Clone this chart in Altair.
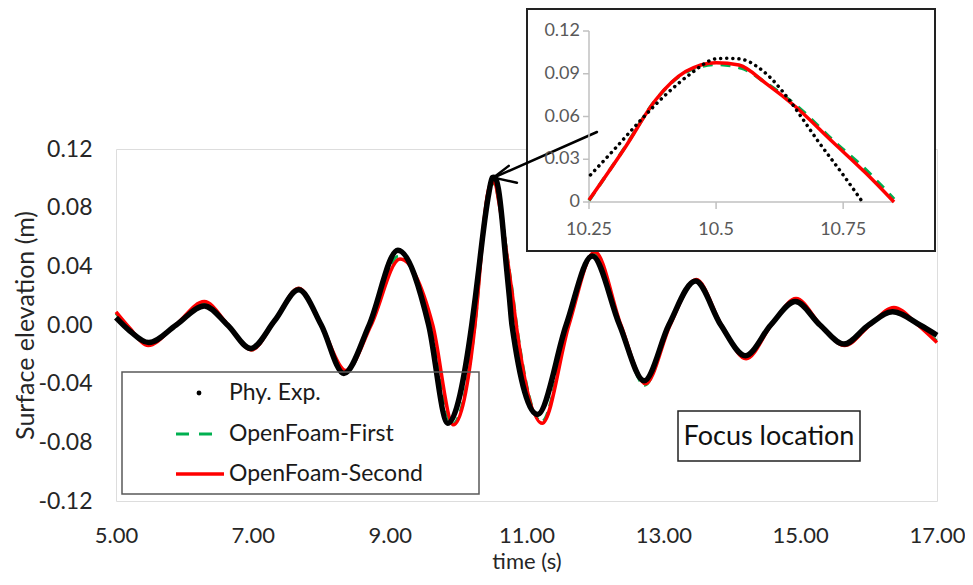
import altair as alt
import pandas as pd

# ---------------- data ----------------
exp_t = [5.00, 5.20, 5.48, 5.88, 6.29, 6.63, 6.97, 7.32, 7.67, 8.00, 8.33, 8.70, 9.12, 9.57, 9.85,
         10.20, 10.253, 10.30, 10.355, 10.40, 10.45, 10.50, 10.52, 10.545, 10.59, 10.644, 10.667,
         10.70, 10.75, 10.788, 11.16, 11.58, 11.96, 12.36, 12.72, 13.08, 13.47, 13.84, 14.20,
         14.57, 14.93, 15.29, 15.64, 16.00, 16.35, 16.75, 17.00]
exp_v = [0.005, -0.004, -0.012, 0.000, 0.013, 0.000, -0.016, 0.003, 0.024, 0.000, -0.033, 0.000, 0.051, 0.000, -0.067,
         0.000, 0.019, 0.037, 0.0587, 0.075, 0.090, 0.1005, 0.1008, 0.1005, 0.0926, 0.0716, 0.060,
         0.043, 0.019, 0.000, -0.061, 0.000, 0.047, 0.000, -0.038, 0.000, 0.030, 0.000, -0.021,
         0.000, 0.016, 0.000, -0.013, 0.000, 0.009, 0.000, -0.007]

first_t = [5.00, 5.20, 5.47, 5.87, 6.29, 6.64, 6.98, 7.32, 7.67, 8.00, 8.35, 8.72, 9.13, 9.61, 9.91,
           10.25, 10.32, 10.38, 10.44, 10.50, 10.55, 10.60, 10.66, 10.736, 10.788, 10.85,
           11.22, 11.61, 11.99, 12.37, 12.73, 13.09, 13.47, 13.85, 14.21, 14.58, 14.94, 15.30,
           15.65, 16.02, 16.36, 16.73, 17.00]
first_v = [0.008, -0.003, -0.013, 0.000, 0.015, 0.000, -0.017, 0.003, 0.025, 0.000, -0.032, 0.000, 0.047, 0.000, -0.068,
           0.001, 0.038, 0.071, 0.091, 0.0965, 0.094, 0.083, 0.067, 0.0412, 0.0248, 0.002,
           -0.066, 0.000, 0.049, 0.000, -0.041, 0.000, 0.030, 0.000, -0.022, 0.000, 0.017, 0.000,
           -0.014, 0.000, 0.011, 0.000, -0.011]

second_t = [5.00, 5.20, 5.47, 5.87, 6.29, 6.64, 6.98, 7.32, 7.67, 8.00, 8.36, 8.73, 9.15, 9.63, 9.93,
            10.25, 10.322, 10.381, 10.44, 10.50, 10.545, 10.598, 10.657, 10.729, 10.795, 10.85,
            11.23, 11.62, 12.00, 12.38, 12.74, 13.10, 13.48, 13.85, 14.21, 14.58, 14.94, 15.30,
            15.65, 16.02, 16.37, 16.72, 17.00]
second_v = [0.009, -0.002, -0.014, 0.000, 0.016, 0.000, -0.017, 0.003, 0.025, 0.000, -0.031, 0.000, 0.045, 0.000, -0.068,
            0.0014, 0.0388, 0.0716, 0.0915, 0.0978, 0.0961, 0.0833, 0.0667, 0.0423, 0.0201, 0.000,
            -0.067, 0.000, 0.050, 0.000, -0.040, 0.000, 0.031, 0.000, -0.023, 0.000, 0.018, 0.000,
            -0.014, 0.000, 0.012, 0.000, -0.012]

legend_labels = ["Phy. Exp.", "OpenFoam-First", "OpenFoam-Second"]
x_ticks = [5, 7, 9, 11, 13, 15, 17]
y_ticks = [-0.12, -0.08, -0.04, 0.0, 0.04, 0.08, 0.12]
inset_x_domain = [10.25, 10.85]
inset_y_domain = [0, 0.12]
inset_x_ticks = [10.25, 10.5, 10.75]
inset_y_ticks = [0, 0.03, 0.06, 0.09, 0.12]
annotation_text = "Focus location"

# arrow (data coordinates): shaft from the inset to the focused crest, plus two barbs
arrow_t0 = [12.03, 10.52, 10.52]
arrow_v0 = [0.1316, 0.1005, 0.1005]
arrow_t1 = [10.52, 10.86, 10.74]
arrow_v1 = [0.1005, 0.0970, 0.1085]

# ---------------- tables ----------------
df_exp = pd.DataFrame({"t": exp_t, "v": exp_v})
df_first = pd.DataFrame({"t": first_t, "v": first_v})
df_second = pd.DataFrame({"t": second_t, "v": second_v})
df_arrow = pd.DataFrame({"t": arrow_t0, "v": arrow_v0, "t2": arrow_t1, "v2": arrow_v1})
df_ixt = pd.DataFrame({"t": inset_x_ticks})
df_iyt = pd.DataFrame({"v": inset_y_ticks})
df_ixd = pd.DataFrame({"t": [inset_x_domain[0]], "t2": [inset_x_domain[1]], "v": [inset_y_domain[0]]})
df_iyd = pd.DataFrame({"t": [inset_x_domain[0]], "v": [inset_y_domain[0]], "v2": [inset_y_domain[1]]})
one = pd.DataFrame({"a": [0]})

FONT = "Lato"
W, H = 821, 352
GREEN = "#00b050"
RED = "#ff0000"
TXT = "#262626"
AX_GRAY = "#c0c0c0"

# ---------------- main panel ----------------
xs = alt.Scale(domain=[5, 17], nice=False, zero=False)
ys = alt.Scale(domain=[-0.12, 0.12], nice=False)
x_axis = alt.Axis(values=x_ticks, format=".2f", title="time (s)", grid=False, domain=False, ticks=False,
                  labelFlush=False, labelFontSize=22, labelColor=TXT, labelPadding=24,
                  titleFontSize=22, titleColor=TXT, titleFontWeight="normal", titlePadding=5,
                  labelFont=FONT, titleFont=FONT)
y_axis = alt.Axis(values=y_ticks, labelExpr="replace(format(datum.value, '.2f'), '\u2212', '-')",
                  title="Surface elevation (m)", grid=False, domain=False, ticks=False, labelFlush=False,
                  labelFontSize=23, labelColor=TXT, labelPadding=24,
                  titleFontSize=25, titleColor=TXT, titleFontWeight="normal", titlePadding=0,
                  labelFont=FONT, titleFont=FONT)
X = alt.X("t:Q", scale=xs, axis=x_axis)
Y = alt.Y("v:Q", scale=ys, axis=y_axis)

m_green = alt.Chart(df_first).mark_line(color=GREEN, strokeWidth=3, strokeDash=[10, 6],
                                        interpolate="monotone").encode(x=X, y=Y)
m_red = alt.Chart(df_second).mark_line(color=RED, strokeWidth=3.5, interpolate="monotone").encode(x=X, y=Y)
m_black = alt.Chart(df_exp).mark_line(color="black", strokeWidth=5.5, interpolate="monotone").encode(x=X, y=Y)

leg_box = alt.Chart(one).mark_rect(fill=None, stroke="#595959", strokeWidth=1.5).encode(
    x=alt.value(6), x2=alt.value(363), y=alt.value(223), y2=alt.value(345))
leg_dot = alt.Chart(one).mark_point(filled=True, size=24, color="black", opacity=1).encode(
    x=alt.value(83), y=alt.value(244))
leg_green = alt.Chart(one).mark_rule(color=GREEN, strokeWidth=3, strokeDash=[13, 10]).encode(
    x=alt.value(60), x2=alt.value(99), y=alt.value(285))
leg_red = alt.Chart(one).mark_rule(color=RED, strokeWidth=3.5).encode(
    x=alt.value(60), x2=alt.value(108), y=alt.value(325))
leg_texts = [
    alt.Chart(one).mark_text(text=lab, align="left", baseline="middle", fontSize=23, font=FONT,
                             color="#1a1a1a").encode(x=alt.value(113), y=alt.value(yy))
    for lab, yy in zip(legend_labels, [244, 285, 325])
]

focus_box = alt.Chart(one).mark_rect(fill=None, stroke="#222222", strokeWidth=1.5).encode(
    x=alt.value(562), x2=alt.value(744), y=alt.value(262), y2=alt.value(312))
focus_text = alt.Chart(one).mark_text(text=annotation_text, align="center", baseline="middle",
                                      fontSize=27, font=FONT, color="#111111").encode(
    x=alt.value(653), y=alt.value(288))

inset_box = alt.Chart(one).mark_rect(fill="white", stroke="#222222", strokeWidth=2).encode(
    x=alt.value(411), x2=alt.value(819), y=alt.value(-140), y2=alt.value(102))

arrow = alt.Chart(df_arrow).mark_rule(color="black", strokeWidth=2.5, strokeCap="round").encode(
    x=X, y=Y, x2="t2:Q", y2="v2:Q")

main = alt.layer(m_green, m_red, m_black, leg_box, leg_dot, leg_green, leg_red, *leg_texts,
                 focus_box, focus_text, inset_box, arrow)

# ---------------- inset panel (its own scales, axes drawn from the tick lists) ----------------
ixs = alt.Scale(domain=inset_x_domain, range=[473, 778], nice=False, zero=False)
iys = alt.Scale(domain=inset_y_domain, range=[53, -118], nice=False, zero=False)
IX = alt.X("t:Q", scale=ixs, axis=None)
IY = alt.Y("v:Q", scale=iys, axis=None)
flt = "datum.t >= 10.25 && datum.t <= 10.86 && datum.v >= 0"

i_xdom = alt.Chart(df_ixd).mark_rule(color=AX_GRAY, strokeWidth=1.5).encode(x=IX, x2="t2:Q", y=IY)
i_ydom = alt.Chart(df_iyd).mark_rule(color=AX_GRAY, strokeWidth=1.5).encode(x=IX, y=IY, y2="v2:Q")
i_xtick = alt.Chart(df_ixt).mark_rule(color=AX_GRAY, strokeWidth=1.5).encode(
    x=IX, y=alt.value(53), y2=alt.value(60))
i_ytick = alt.Chart(df_iyt).mark_rule(color=AX_GRAY, strokeWidth=1.5).encode(
    y=IY, x=alt.value(467), x2=alt.value(473))
i_xlab = alt.Chart(df_ixt).transform_calculate(lab="format(datum.t, '~g')").mark_text(
    fontSize=18, font=FONT, color="#595959", baseline="middle", align="center").encode(
    x=IX, y=alt.value(81), text="lab:N")
i_ylab = alt.Chart(df_iyt).transform_calculate(lab="format(datum.v, '~g')").mark_text(
    fontSize=18, font=FONT, color="#595959", baseline="middle", align="right").encode(
    y=IY, x=alt.value(464), text="lab:N")

i_green = alt.Chart(df_first).transform_filter(flt).mark_line(
    color=GREEN, strokeWidth=3.5, strokeDash=[10, 8], interpolate="monotone").encode(x=IX, y=IY)
i_red = alt.Chart(df_second).transform_filter(flt).mark_line(
    color=RED, strokeWidth=3.5, interpolate="monotone").encode(x=IX, y=IY)
i_black = alt.Chart(df_exp).transform_filter(flt).mark_line(
    color="black", strokeWidth=3.5, strokeDash=[0.1, 6], strokeCap="round",
    interpolate="monotone").encode(x=IX, y=IY)

inset = alt.layer(i_xdom, i_ydom, i_xtick, i_ytick, i_xlab, i_ylab, i_green, i_red, i_black)

chart = alt.layer(main, inset).resolve_scale(x="independent", y="independent").properties(
    width=W, height=H,
    autosize=alt.AutoSizeParams(type="none"),
    padding={"left": 108, "top": 141, "right": 28, "bottom": 76},
).configure_view(stroke="#b5b5b5", strokeWidth=1.5).configure(font=FONT)

chart.save("out.html", embed_options={"renderer": "svg", "actions": False})
